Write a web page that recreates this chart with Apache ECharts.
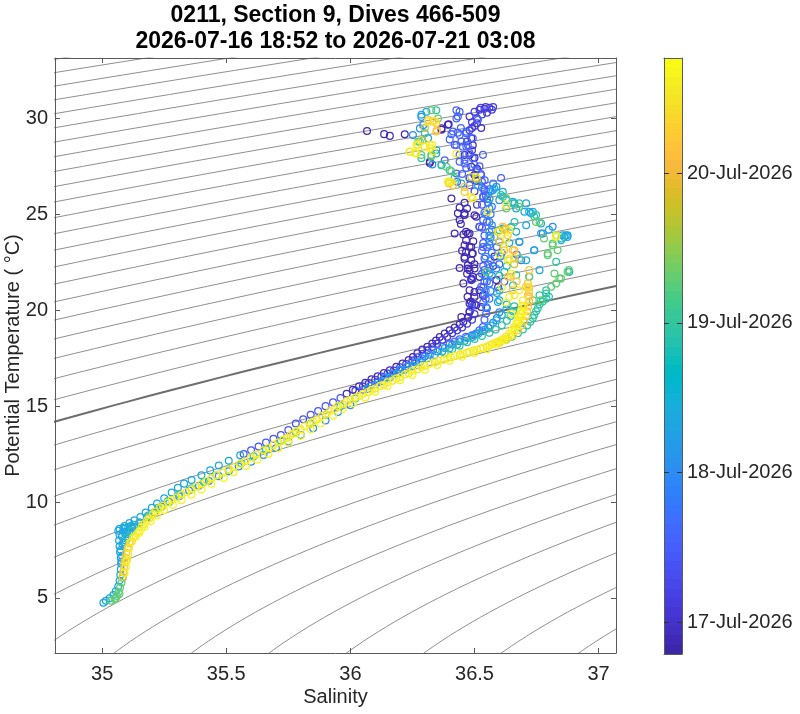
<!DOCTYPE html>
<html>
<head>
<meta charset="utf-8">
<script src="https://cdn.jsdelivr.net/npm/echarts@6/dist/echarts.min.js"></script>
<style>
html,body{margin:0;padding:0;background:#fff;}
#chart{width:800px;height:714px;}
</style>
</head>
<body>
<div id="chart"></div>
<script>
// ---------------- DATA ----------------
const titleLine1 = '0211, Section 9, Dives 466-509';
const titleLine2 = '2026-07-16 18:52 to 2026-07-21 03:08';
const xTicks = [35, 35.5, 36, 36.5, 37];
const yTicks = [5, 10, 15, 20, 25, 30];
const colorbarDays = [17, 18, 19, 20];       // day of July 2026
const colorbarLabels = ['17-Jul-2026', '18-Jul-2026', '19-Jul-2026', '20-Jul-2026'];
const timeMin = 16.786;                       // 16-Jul 18:52
const timeMax = 20.77;
const sigmaLevels = [20.5,20.75,21,21.25,21.5,21.75,22,22.25,22.5,22.75,23,23.25,23.5,23.75,24,24.25,24.5,24.75,25,25.25,25.5,25.75,26,26.25,26.5,26.75,27,27.25,27.5,27.75,28,28.25,28.5,28.75,29,29.25,29.5,29.75];
const highlightLevel = 26.0;

// observation time (day of July) of each group of samples, drawn in this order
const groupTimes = [16.85, 17.1, 17.4, 17.55, 17.75, 18.0, 18.35, 18.95, 19.3, 19.75, 20.2, 20.5, 20.62, 20.72];

// [salinity, potential temperature]
const g0 = [[36.067,29.34],[36.136,29.18],[36.159,29.09],[36.219,29.17],[36.367,29.48],[36.396,29.69],[36.487,28.96],[36.493,28.6],[36.46,28.09],[36.48,28.09],[36.5,27.95],[36.32,27.74],[36.487,27.48],[36.51,27.38],[36.407,25.83],[36.433,25.05],[36.46,24.97],[36.5,24.95],[36.507,24.87],[36.466,24.09],[36.48,24.0],[36.52,24.35],[36.466,23.65],[36.48,23.3],[36.46,22.78],[36.49,22.95],[36.473,22.18],[36.487,21.65],[36.48,21.04],[36.5,20.95],[36.472,20.7],[36.485,20.45],[36.45,23.1],[36.44,22.2],[36.455,21.4],[36.47,25.3],[36.445,24.5],[36.455,23.95],[36.47,21.9],[36.495,23.6],[36.5,22.4],[36.46,25.6],[36.44,25.35],[36.42,24.0],
  [36.46,25.05],[36.44,24.7],[36.473,24.0],[36.46,23.39],[36.487,23.3],[36.466,23.04],[36.493,22.96],[36.46,22.69],[36.487,22.61],[36.473,22.35],[36.5,22.18],[36.48,22.09],[36.493,21.74],[36.487,21.57],[36.52,21.74],[36.52,21.04],[36.534,20.78],[36.5,20.69],[36.48,20.35],[36.507,20.26],[36.527,20.17],[36.48,19.91],[36.447,19.65],[36.473,19.62],[36.32,27.67],[36.48,26.89],[36.5,27.05],[36.507,26.75],[36.527,29.5],[36.367,29.41],[36.393,29.67],[36.588,21.57],[36.595,21.2],[36.58,22.8],[36.575,22.3],
  [36.49,20.3],[36.48,19.95],[36.475,19.65],[36.455,19.4],[36.44,19.25],[36.42,19.1],[36.4,18.95],[36.38,18.78],[36.36,18.6],[36.345,18.42],[36.33,18.26],[36.31,18.1],[36.29,17.95],[36.27,17.75],[36.252,17.56],[36.235,17.4],[36.21,17.22],[36.185,17.05],[36.159,16.87],[36.135,16.72],[36.11,16.56],[36.085,16.4],[36.06,16.22],[36.035,16.03],[36.01,15.85],[35.985,15.65]];
const g1 = [[36.48,30.1],[36.5,30.35],[36.52,30.45],[36.54,30.5],[36.56,30.55],[36.575,30.6],[36.49,29.8],[36.5,29.6],[36.51,30.0],[36.53,30.2],[36.55,30.3],[36.57,30.45],[36.49,29.5],[36.51,29.75],[36.545,30.6],[36.525,30.55],[36.48,29.38],[36.49,28.34],[36.47,28.8],[36.5,26.2],[36.51,25.5],[36.49,21.6],[36.5,20.3],
  [36.5,19.8],[36.49,19.5],[36.47,19.3],[36.45,19.1],[36.43,18.95],[36.41,18.8],[36.39,18.62],[36.37,18.45],[36.35,18.25],[36.33,18.08],[36.31,17.9],[36.29,17.72],[36.27,17.55],[36.25,17.38],[36.225,17.2],[36.2,17.02],[36.175,16.86],[36.15,16.7],[36.125,16.55],[36.1,16.38],[36.075,16.2],[36.05,16.02],[36.02,15.8]];
const g2 = [[36.535,20.4],[36.54,20.8],[36.535,21.2],[36.54,21.5],[36.53,21.9],[36.535,22.3],[36.54,22.7],[36.53,23.1],[36.535,23.5],[36.54,23.9],[36.53,24.3],[36.535,24.7],[36.54,25.1],[36.53,25.5],[36.535,25.9],[36.54,26.3],[36.53,26.7],[36.525,27.1],[36.52,27.5],
  [35.96,15.42],[35.93,15.2],[35.9,15.0],[35.87,14.75],[35.84,14.55],[35.81,14.32],[35.78,14.1],[35.75,13.75],[35.72,13.5],[35.69,13.3],[35.66,13.1],[35.63,12.9],[35.6,12.7],[35.57,12.5]];
const g3 = [[36.407,29.17],[36.44,29.13],[36.467,29.3],[36.427,30.43],[36.44,30.35],[36.427,30.0],[36.427,28.61],[36.453,28.52],[36.473,28.61],[36.44,27.74],[36.46,27.65],[36.38,27.82],[36.427,27.13],[36.45,27.1],[36.527,27.04],[36.43,26.7],[36.48,26.52],[36.541,26.78],[36.53,26.4],[36.54,26.2],[36.545,26.0],[36.55,25.8],[36.555,25.6],[36.535,25.9],[36.56,26.3],[36.534,25.91],[36.534,23.3],[36.54,22.09],[36.527,21.22],[36.487,20.17],[36.52,24.35],[36.545,20.6],[36.55,21.5],[36.555,22.4],[36.55,23.3],[36.55,24.6],
  [36.413,29.32],[36.433,29.25],[36.467,29.23],[36.493,28.97],[36.447,28.8],[36.42,28.62],[36.467,28.54],[36.48,28.19],[36.44,28.1],[36.46,27.84],[36.493,27.93],[36.5,27.58],[36.467,27.41],[36.507,27.32],[36.433,30.1],[36.514,29.93],[36.534,28.1],[36.48,26.89],[36.607,26.89],[36.445,29.5],[36.4,28.9],[36.6,22.4],[36.61,23.0],[36.59,23.3],[36.62,21.5],
  [36.55,20.1],[36.547,19.83],[36.54,19.5],[36.534,19.13],[36.52,18.95],[36.507,18.78],[36.49,18.7],[36.466,18.61],[36.44,18.48],[36.42,18.37],[36.4,18.26],[36.37,18.1],[36.333,17.91],[36.3,17.6],[36.265,17.3],[36.23,17.05],[36.2,16.85],[36.17,16.65],[36.14,16.45],[36.11,16.25],[36.08,16.05],[36.05,15.85]];
const g4 = [[36.56,20.6],[36.565,21.0],[36.56,21.4],[36.57,21.8],[36.56,22.2],[36.565,22.6],[36.57,23.0],[36.56,23.4],[36.565,23.8],[36.57,24.2],[36.56,24.6],[36.565,25.0],[36.57,25.4],[36.56,25.8],[36.565,26.2],[36.575,26.6],
  [36.775,24.0],[36.681,23.56],[36.688,22.61],[36.67,22.9]];
const g5 = [[36.252,29.13],[36.286,30.08],[36.293,29.65],[36.28,29.48],[36.588,26.43],[36.56,25.3],[36.57,24.43],[36.56,24.09],[36.6,25.74],[36.56,23.56],[36.588,22.18],[36.547,20.17],[36.74,23.13],[36.815,24.35],[36.545,21.0],[36.54,21.8],[36.545,22.8],[36.56,23.9],[36.545,25.0],[36.33,27.6],
  [36.6,19.9],[36.59,19.6],[36.575,19.35],[36.555,19.1],[36.53,18.9],[36.5,18.72],[36.47,18.55],[36.44,18.38],[36.41,18.2],[36.38,18.03],[36.35,17.85],[36.32,17.68],[36.29,17.48],[36.26,17.27],[36.23,17.08],[36.2,16.9],[36.17,16.7],[36.14,16.5],
  [35.08,8.2],[35.1,8.45],[35.12,8.7],[35.15,8.95],[35.18,9.2],[35.21,9.45],[35.24,9.75],[35.27,10.0],[35.31,10.3],[35.35,10.6],[35.39,10.85],[35.43,11.1],[35.47,11.35],[35.51,11.6],[35.55,11.85],[35.6,12.1],[35.65,12.45],[35.7,12.8],[35.75,13.15],[35.8,13.5],[35.85,13.85],[35.9,14.25],[35.95,14.7],[36.0,15.05]];
const g6 = [[36.306,30.35],[36.313,28.96],[36.346,28.35],[36.346,28.17],[36.367,27.56],[36.447,26.61],[36.514,26.52],[36.58,26.35],[36.654,25.65],[36.668,25.3],[36.72,25.13],[36.768,24.52],[36.855,23.91],[36.875,23.82],[36.708,24.43],[36.614,24.26],[36.68,23.57],[36.614,26.17],[36.628,25.74],[36.708,25.57],[36.735,25.13],[36.668,24.09],[36.768,24.0],[36.868,23.91],[36.6,23.56],[36.708,22.61],[36.56,21.91],[36.762,22.09],[36.882,22.0],[36.6,21.04],
  [36.286,30.19],[36.574,26.26],[36.661,25.57],[36.701,25.13],[36.728,25.05],[36.8,24.2],[36.862,23.82],[36.85,23.65],[36.875,23.91],[36.741,23.13],[36.594,20.43],[36.6,20.52],[36.62,22.0],[36.605,22.8],[36.64,23.5],[36.59,20.9],
  [36.63,20.3],[36.628,20.05],[36.61,19.75],[36.588,19.48],[36.565,19.2],[36.54,18.98],[36.515,18.78],[36.493,18.61],[36.46,18.4],[36.43,18.2],[36.4,18.02],[36.37,17.85],[36.34,17.67],[36.31,17.5],[36.28,17.3],[36.25,17.1],[36.22,16.9],[36.19,16.7],[36.16,16.5],[36.13,16.3],[36.1,16.1],[36.07,15.9],
  [35.07,8.6],[35.09,8.75],[35.11,8.9],[35.13,9.05],[35.154,9.22],[35.175,9.45],[35.2,9.7],[35.221,9.92],[35.25,10.2],[35.28,10.5],[35.305,10.75],[35.33,10.96],[35.36,11.15],[35.4,11.4],[35.435,11.65],[35.47,11.9],[35.51,12.15],[35.556,12.44],
  [35.065,8.5],[35.07,8.3],[35.068,8.0],[35.07,7.7],[35.072,7.4],[35.075,7.1],[35.076,6.8],[35.075,6.5],[35.073,6.2],[35.07,5.9],[35.065,5.6],[35.055,5.35],[35.045,5.15],[35.03,4.98],[35.015,4.85],[35.005,4.75],
  [35.09,8.4],[35.1,8.2],[35.11,8.45],[35.085,7.9],[35.095,8.0],[35.12,8.65],[35.13,8.8],[35.075,7.5],[35.08,7.2],[35.078,6.9],[35.082,7.8],[35.09,8.6],[35.105,8.7],[35.115,8.75],[35.1,8.35],[35.085,8.65]];
const g7 = [[36.346,30.43],[36.4,27.3],[36.607,26.0],[36.68,25.57],[36.661,24.6],[36.648,24.35],[36.56,25.83],[36.654,25.57],[36.748,24.96],[36.6,24.17],[36.85,23.74],[36.829,22.52],[36.668,21.83],[36.789,21.04],[36.762,20.78],
  [36.3,29.23],[36.286,27.93],[36.367,27.58],[36.42,26.89],[36.614,25.91],[36.74,24.9],[36.829,23.91],[36.789,20.87],[36.8,20.7],[36.63,22.3],[36.655,21.3],[36.6,21.8],
  [36.79,20.6],[36.775,20.45],[36.762,20.3],[36.755,20.1],[36.748,19.95],[36.74,19.75],[36.735,19.6],[36.725,19.4],[36.712,19.2],[36.695,19.0],[36.675,18.8],[36.65,18.62],[36.625,18.45],
  [36.66,20.2],[36.655,19.95],[36.645,19.7],[36.63,19.45],[36.61,19.22],[36.585,19.0],[36.56,18.82],[36.53,18.66],[36.5,18.5],[36.47,18.33],[36.44,18.15],[36.41,17.97],[36.38,17.78],
  [35.1,8.15],[35.12,8.5],[35.15,8.9],[35.185,9.3],[35.225,9.7],[35.265,10.05],[35.31,10.4],[35.36,10.72],[35.41,11.05],[35.46,11.38],[35.51,11.7],[35.56,12.02],[35.61,12.38],[35.66,12.75],[35.72,13.2],[35.78,13.63],[35.84,14.1],[35.9,14.55],[35.96,15.0],[36.02,15.4]];
const g8 = [[36.326,30.43],[36.353,30.0],[36.28,28.78],[36.286,28.09],[36.326,28.09],[36.387,27.48],[36.628,25.83],[36.748,24.6],[36.58,23.82],[36.68,25.4],[36.762,24.6],[36.815,23.48],[36.835,23.13],[36.795,22.87],[36.68,22.69],[36.72,21.74],[36.822,21.91],[36.849,21.65],[36.829,21.39],[36.809,21.22],[36.735,20.52],[36.88,22.1],[36.78,23.74],
  [36.407,27.24],[36.273,28.8],[36.326,28.02],[36.628,25.3],[36.815,23.39],[36.795,22.96],[36.875,22.0],[36.842,21.65],[36.721,21.74],[36.768,20.52],[36.547,22.0],
  [35.035,4.85],[35.05,4.95],[35.06,5.1],[35.066,5.3],[35.072,5.55],[35.078,5.8],[35.083,6.05],[35.055,5.0],[35.07,5.2]];
const g9 = [[36.487,26.95],[36.62,24.2],[36.3,29.5],[36.29,28.85],[36.51,26.85],[36.66,22.4]];
const g10 = [[36.313,29.91],[36.33,29.85],[36.349,29.39],[36.413,26.52],[36.46,26.17],[36.594,24.09],[36.628,24.26],[36.46,26.43],[36.634,23.91],[36.661,23.13],[36.661,22.69],[36.634,21.74],[36.654,21.04],[36.708,21.22],[36.715,20.78],
  [36.346,29.76],[36.346,29.32],[36.614,24.35],[36.654,23.13],[36.72,22.09],[36.62,23.13],[36.645,21.74],[36.397,26.61],[36.6,23.6],[36.67,21.5],
  [36.6,18.3],[36.63,18.5],[36.655,18.7],[36.675,18.95],[36.69,19.2],[36.7,19.45],[36.708,19.7],[36.712,19.95],[36.716,20.2],[36.72,20.45],[36.72,20.7],[36.72,20.95],[36.72,21.2],[36.715,21.4],
  [35.082,6.1],[35.085,6.35],[35.088,6.6],[35.09,6.85],[35.093,7.1],[35.097,7.35],[35.103,7.6],[35.11,7.85]];
const g11 = [[35.12,7.95],[35.135,8.2],[35.15,8.5],[35.17,8.85],[35.19,9.15],[35.215,9.5],[35.245,9.8],[35.28,10.1],[35.32,10.38],[35.36,10.65],[35.4,10.92],[35.44,11.22],[35.485,11.52],[35.53,11.82],[35.575,12.13],[35.62,12.47],[35.67,12.82],[35.71,13.1],[35.745,13.35],[35.77,13.57],[35.8,13.8],[35.835,14.05],[35.865,14.3],[35.9,14.58],[35.935,14.85],[35.97,15.1],[36.0,15.33],[36.035,15.53],[36.07,15.73],[36.1,15.92],[36.135,16.12],[36.17,16.33],[36.2,16.52],[36.235,16.72],[36.27,16.92],[36.3,17.1],[36.34,17.28],[36.375,17.42],[36.405,17.55],[36.44,17.68],[36.47,17.78],[36.495,17.88],[36.525,17.99],[36.55,18.1],[36.57,18.22],[36.59,18.33],[36.61,18.45]];
const g12 = [[36.273,28.61],[36.3,28.52],[36.33,28.61],[36.24,28.26],[36.266,28.17],[36.32,28.44],[36.427,28.17],[36.507,26.95],[36.407,26.69],[36.493,25.83],[36.628,25.48],[36.829,23.82],[36.628,23.74],[36.4,26.69],[36.487,25.91],[36.554,25.13],[36.64,24.17],[36.829,23.91],[36.64,22.69],[36.648,21.91],[36.661,20.78],[36.68,21.04],[36.34,29.86],
  [36.239,28.28],[36.26,28.2],[36.266,28.62],[36.32,28.62],[36.333,28.28],[36.313,29.84],[36.393,26.71],[36.62,23.3],[36.634,22.61],[36.715,21.22],[36.64,20.69],[36.648,19.83],[36.598,24.1],[36.61,21.2],[36.625,20.4],[36.6,22.9],
  [35.09,6.3],[35.095,6.6],[35.098,6.9],[35.1,7.0],[35.105,7.3],[35.108,7.6],[35.114,7.9],[35.125,8.15],
  [35.141,8.35],[35.16,8.7],[35.181,9.05],[35.205,9.38],[35.234,9.7],[35.265,9.98],[35.3,10.25],[35.34,10.52],[35.38,10.8],[35.42,11.1],[35.46,11.4],[35.51,11.7],[35.556,12.0],[35.6,12.33],[35.65,12.7],[35.69,12.98],[35.73,13.25],[35.76,13.5],[35.783,13.7],[35.815,13.95],[35.85,14.2],[35.885,14.48],[35.918,14.75],[35.95,15.0],[35.985,15.25],[36.02,15.45],[36.051,15.65],[36.085,15.85],[36.12,16.05],[36.15,16.25],[36.185,16.44],[36.22,16.65],[36.25,16.85],[36.285,17.04],[36.32,17.22],[36.355,17.37],[36.39,17.5],[36.42,17.62],[36.453,17.74],[36.48,17.84],[36.51,17.95],[36.535,18.05],[36.561,18.17],[36.58,18.28],[36.6,18.4],[36.615,18.5],[36.627,18.61],[36.64,18.78],[36.65,18.95],[36.66,19.13],[36.668,19.31],[36.675,19.48],[36.68,19.65],[36.685,19.82],[36.688,20.0],[36.692,20.25],[36.695,20.5]];
const g13 = [[35.15,8.4],[35.17,8.7],[35.195,9.0],[35.22,9.3],[35.25,9.58],[35.285,9.85],[35.32,10.1],[35.36,10.38],[35.4,10.65],[35.44,10.95],[35.49,11.25],[35.53,11.55],[35.58,11.88],[35.625,12.2],[35.67,12.5],[35.71,12.8],[35.75,13.1],[35.8,13.45],[35.84,13.8],[35.88,14.1],[35.93,14.5],[35.97,14.85],[36.01,15.15],[36.06,15.45],[36.1,15.75],[36.15,16.05],[36.2,16.35],[36.25,16.62],[36.3,16.9],[36.35,17.15],[36.4,17.37],[36.45,17.57],[36.5,17.77],[36.55,17.97],[36.59,18.2],[36.62,18.42],[36.645,18.65],[36.66,18.9],[36.672,19.15],[36.68,19.4],[36.688,19.65],[36.695,19.9],[36.7,20.15]];
const groups = [g0, g1, g2, g3, g4, g5, g6, g7, g8, g9, g10, g11, g12, g13];

// MATLAB parula colormap (64 entries)
const parula64 = [[0.2422,0.1504,0.6603],[0.2504,0.1650,0.7076],[0.2578,0.1818,0.7511],[0.2647,0.1978,0.7952],[0.2706,0.2147,0.8364],[0.2751,0.2342,0.8710],[0.2783,0.2559,0.8991],[0.2803,0.2782,0.9221],[0.2813,0.3006,0.9414],[0.2810,0.3228,0.9579],[0.2795,0.3447,0.9717],[0.2760,0.3667,0.9829],[0.2699,0.3892,0.9906],[0.2602,0.4123,0.9952],[0.2440,0.4358,0.9988],[0.2206,0.4603,0.9973],[0.1963,0.4847,0.9892],[0.1834,0.5074,0.9798],[0.1786,0.5289,0.9682],[0.1764,0.5499,0.9520],[0.1687,0.5703,0.9359],[0.1540,0.5902,0.9218],[0.1460,0.6091,0.9079],[0.1380,0.6276,0.8973],[0.1248,0.6459,0.8883],[0.1113,0.6635,0.8763],[0.0952,0.6798,0.8598],[0.0689,0.6948,0.8394],[0.0297,0.7082,0.8163],[0.0036,0.7203,0.7917],[0.0067,0.7312,0.7660],[0.0433,0.7411,0.7394],[0.0964,0.7500,0.7120],[0.1408,0.7584,0.6842],[0.1717,0.7670,0.6554],[0.1938,0.7758,0.6251],[0.2161,0.7843,0.5923],[0.2470,0.7918,0.5567],[0.2906,0.7973,0.5188],[0.3406,0.8008,0.4789],[0.3909,0.8029,0.4354],[0.4456,0.8024,0.3909],[0.5044,0.7993,0.3480],[0.5616,0.7942,0.3045],[0.6174,0.7876,0.2612],[0.6720,0.7793,0.2227],[0.7242,0.7698,0.1910],[0.7738,0.7598,0.1646],[0.8203,0.7498,0.1535],[0.8634,0.7406,0.1596],[0.9035,0.7330,0.1774],[0.9393,0.7288,0.2100],[0.9728,0.7298,0.2394],[0.9956,0.7434,0.2371],[0.9970,0.7659,0.2199],[0.9952,0.7893,0.2028],[0.9892,0.8136,0.1885],[0.9786,0.8386,0.1766],[0.9676,0.8639,0.1643],[0.9610,0.8890,0.1537],[0.9597,0.9135,0.1423],[0.9628,0.9373,0.1265],[0.9691,0.9606,0.1064],[0.9769,0.9839,0.0805]];

// ---------------- BUILD ----------------
const parulaHex = parula64.map(c => '#' + c.map(v => Math.round(v * 255).toString(16).padStart(2, '0')).join(''));

const scatterData = [];
groups.forEach((g, i) => g.forEach(p => scatterData.push([p[0], p[1], groupTimes[i]])));

// UNESCO EOS-80 potential density anomaly (p = 0)
function sigma0(S, T) {
  const T2 = T * T, T3 = T2 * T, T4 = T3 * T, T5 = T4 * T;
  const rw = 999.842594 + 6.793952e-2 * T - 9.095290e-3 * T2 + 1.001685e-4 * T3 - 1.120083e-6 * T4 + 6.536332e-9 * T5;
  const A = 0.824493 - 4.0899e-3 * T + 7.6438e-5 * T2 - 8.2467e-7 * T3 + 5.3875e-9 * T4;
  const B = -5.72466e-3 + 1.0227e-4 * T - 1.6546e-6 * T2;
  return rw + A * S + B * Math.pow(S, 1.5) + 4.8314e-4 * S * S - 1000;
}
function salinityAt(level, T) {
  let S = 35;
  for (let k = 0; k < 12; k++) {
    const f = sigma0(S, T) - level;
    const d = (sigma0(S + 0.001, T) - sigma0(S - 0.001, T)) / 0.002;
    S -= f / d;
  }
  return S;
}
const contourSeries = sigmaLevels.map(level => {
  const pts = [];
  for (let T = 0; T <= 36.0001; T += 0.25) {
    const S = salinityAt(level, T);
    if (S > 33.5 && S < 38.5) pts.push([S, T]);
  }
  const hi = Math.abs(level - highlightLevel) < 1e-6;
  return {
    type: 'line', xAxisIndex: 0, yAxisIndex: 0, data: pts, showSymbol: false, silent: true,
    clip: true, z: hi ? 2 : 1, animation: false,
    lineStyle: { color: hi ? '#6e6e6e' : '#8f8f8f', width: hi ? 2 : 1 }
  };
});

const parulaStops = [];
parulaHex.forEach((c, i) => {
  parulaStops.push({ offset: i / 64, color: c });
  parulaStops.push({ offset: (i + 1) / 64, color: c });
});

const FONT = '"Liberation Sans", Arial, Helvetica, sans-serif';
const TXT = '#262626';
const FRAME = '#5a5a5a';

function frameAxis(extra) {
  return Object.assign({
    type: 'value', z: 10,
    axisLine: { show: true, onZero: false, lineStyle: { color: FRAME, width: 1 } },
    axisTick: { show: true, inside: true, length: 5, lineStyle: { color: FRAME, width: 1 } },
    axisLabel: { show: false },
    splitLine: { show: false }
  }, extra);
}

const option = {
  animation: false,
  backgroundColor: '#ffffff',
  textStyle: { fontFamily: FONT },
  title: {
    text: titleLine1 + '\n' + titleLine2,
    left: 335.5, top: 3, padding: 0, textAlign: 'center',
    textStyle: { fontFamily: FONT, fontSize: 23, fontWeight: 'bold', color: '#000', lineHeight: 26 }
  },
  grid: [
    { left: 55, top: 58, width: 561, height: 595, outerBoundsMode: 'none', containLabel: false },
    { left: 664, top: 58, width: 18, height: 596, outerBoundsMode: 'none', containLabel: false }
  ],
  xAxis: [
    frameAxis({ gridIndex: 0, position: 'bottom', min: 34.81, max: 37.07,
      axisTick: { show: true, inside: true, length: 5, customValues: xTicks, lineStyle: { color: FRAME } },
      axisLabel: { show: true, customValues: xTicks, margin: 11, color: TXT, fontSize: 20, fontFamily: FONT },
      name: 'Salinity', nameLocation: 'middle', nameGap: 34, nameMoveOverlap: false,
      nameTextStyle: { color: TXT, fontSize: 20, fontFamily: FONT } }),
    frameAxis({ gridIndex: 0, position: 'top', min: 34.81, max: 37.07,
      axisTick: { show: true, inside: true, length: 5, customValues: xTicks, lineStyle: { color: FRAME } } }),
    frameAxis({ gridIndex: 1, position: 'bottom', min: 0, max: 1, axisTick: { show: false } }),
    frameAxis({ gridIndex: 1, position: 'top', min: 0, max: 1, axisTick: { show: false } })
  ],
  yAxis: [
    frameAxis({ gridIndex: 0, position: 'left', min: 2.13, max: 33.15,
      axisTick: { show: true, inside: true, length: 5, customValues: yTicks, lineStyle: { color: FRAME } },
      axisLabel: { show: true, customValues: yTicks, margin: 7, color: TXT, fontSize: 20, fontFamily: FONT },
      name: 'Potential Temperature ( °C)', nameLocation: 'middle', nameGap: 32, nameRotate: 90, nameMoveOverlap: false,
      nameTextStyle: { color: TXT, fontSize: 20, fontFamily: FONT } }),
    frameAxis({ gridIndex: 0, position: 'right', min: 2.13, max: 33.15,
      axisTick: { show: true, inside: true, length: 5, customValues: yTicks, lineStyle: { color: FRAME } } }),
    frameAxis({ gridIndex: 1, position: 'right', min: timeMin, max: timeMax,
      axisTick: { show: true, inside: true, length: 5, customValues: colorbarDays, lineStyle: { color: '#333' } },
      axisLabel: { show: true, customValues: colorbarDays, margin: 5, color: TXT, fontSize: 20, fontFamily: FONT,
        formatter: v => colorbarLabels[colorbarDays.indexOf(Math.round(v))] } }),
    frameAxis({ gridIndex: 1, position: 'left', min: timeMin, max: timeMax,
      axisTick: { show: true, inside: true, length: 5, customValues: colorbarDays, lineStyle: { color: '#333' } } })
  ],
  visualMap: {
    type: 'continuous', show: false, min: timeMin, max: timeMax, dimension: 2,
    seriesIndex: contourSeries.length, inRange: { color: parulaHex }
  },
  series: contourSeries.concat([
    {
      type: 'custom', xAxisIndex: 0, yAxisIndex: 0, data: scatterData, z: 3, clip: true,
      encode: { x: 0, y: 1 },
      renderItem: (params, api) => {
        const p = api.coord([api.value(0), api.value(1)]);
        return { type: 'circle', shape: { cx: p[0], cy: p[1], r: 3.4 },
          style: { fill: 'none', stroke: api.visual('color'), lineWidth: 1.25 } };
      }
    },
    {
      type: 'custom', xAxisIndex: 2, yAxisIndex: 2, data: [[0, timeMin, 1, timeMax]], z: 1, silent: true,
      renderItem: (params, api) => {
        const a = api.coord([api.value(0), api.value(1)]);
        const b = api.coord([api.value(2), api.value(3)]);
        return { type: 'rect', shape: { x: a[0], y: b[1], width: b[0] - a[0], height: a[1] - b[1] },
          style: { fill: new echarts.graphic.LinearGradient(0, 1, 0, 0, parulaStops) } };
      }
    }
  ])
};

const chart = echarts.init(document.getElementById('chart'), null, { renderer: 'canvas' });
chart.setOption(option);
</script>
</body>
</html>
